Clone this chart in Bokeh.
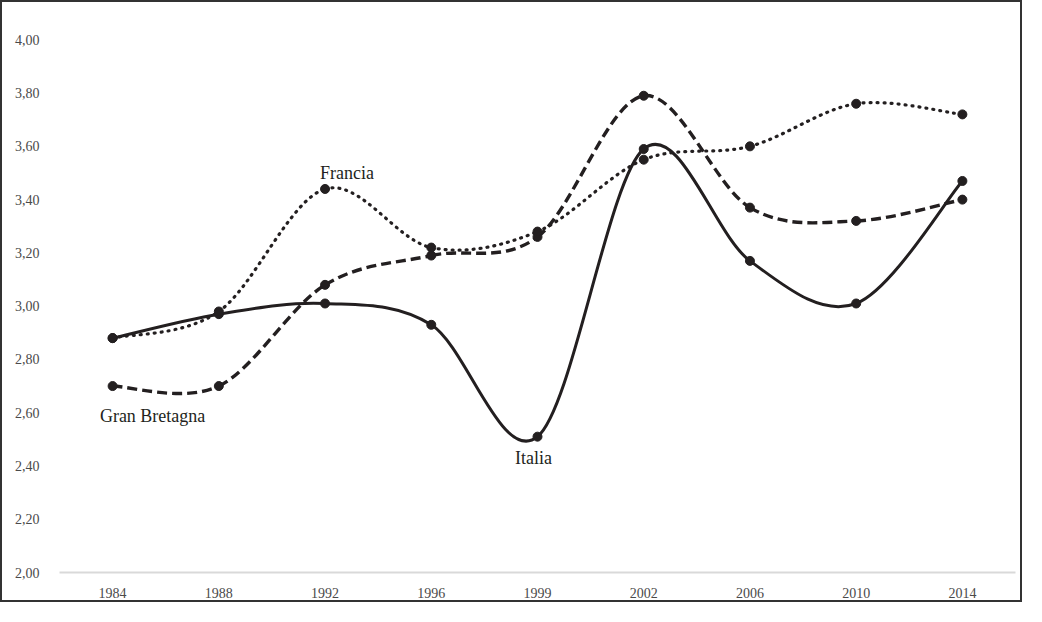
from bokeh.plotting import figure
from bokeh.models import FixedTicker, CustomJSTickFormatter, Range1d, ColumnDataSource
from bokeh.core.properties import value
from bokeh.embed import file_html
from bokeh.resources import INLINE

years = ["1984", "1988", "1992", "1996", "1999", "2002", "2006", "2010", "2014"]
italia = [2.88, 2.97, 3.01, 2.93, 2.51, 3.59, 3.17, 3.01, 3.47]
gran_bretagna = [2.70, 2.70, 3.08, 3.19, 3.26, 3.79, 3.37, 3.32, 3.40]
francia = [2.88, 2.98, 3.44, 3.22, 3.28, 3.55, 3.60, 3.76, 3.72]
y_ticks = [2.0, 2.2, 2.4, 2.6, 2.8, 3.0, 3.2, 3.4, 3.6, 3.8, 4.0]

INK = "#231f20"
TICK = "#4a4a4a"
SERIF = "Liberation Serif"

xs = list(range(len(years)))


def smooth_segments(ys):
    n = len(ys)
    d = dict(x0=[], y0=[], x1=[], y1=[], cx0=[], cy0=[], cx1=[], cy1=[])
    for i in range(n - 1):
        a = max(i - 1, 0)
        b = min(i + 2, n - 1)
        d["x0"].append(xs[i]); d["y0"].append(ys[i])
        d["x1"].append(xs[i + 1]); d["y1"].append(ys[i + 1])
        d["cx0"].append(xs[i] + (xs[i + 1] - xs[a]) / 6)
        d["cy0"].append(ys[i] + (ys[i + 1] - ys[a]) / 6)
        d["cx1"].append(xs[i + 1] - (xs[b] - xs[i]) / 6)
        d["cy1"].append(ys[i + 1] - (ys[b] - ys[i]) / 6)
    return ColumnDataSource(d)


p = figure(width=1022, height=602, output_backend="svg", toolbar_location=None,
           x_range=Range1d(-0.5, len(years) - 0.5), y_range=Range1d(2.0, 4.05),
           min_border_left=57, min_border_right=9, min_border_top=24, min_border_bottom=32)
p.styles = {"border": "2px solid #333333"}
p.outline_line_color = None
p.xgrid.grid_line_color = None
p.ygrid.grid_line_color = None

p.xaxis.ticker = FixedTicker(ticks=xs)
p.xaxis.major_label_overrides = {i: y for i, y in enumerate(years)}
p.xaxis.axis_line_color = "#d9d9d9"
p.xaxis.axis_line_width = 2
p.xaxis.major_tick_line_color = None
p.xaxis.minor_tick_line_color = None
p.xaxis.major_label_standoff = 9
p.xaxis.major_label_text_font = SERIF
p.xaxis.major_label_text_font_size = "14px"
p.xaxis.major_label_text_color = TICK

p.yaxis.ticker = FixedTicker(ticks=y_ticks)
p.yaxis.formatter = CustomJSTickFormatter(code="return tick.toFixed(2).replace('.', ',');")
p.yaxis.axis_line_color = None
p.yaxis.major_tick_line_color = None
p.yaxis.minor_tick_line_color = None
p.yaxis.major_label_standoff = 14
p.yaxis.major_label_text_font = SERIF
p.yaxis.major_label_text_font_size = "14px"
p.yaxis.major_label_text_color = TICK

styles = [
    (italia, None),
    (gran_bretagna, "10 5"),
    (francia, "1 6"),
]
for ys, dash in styles:
    src = smooth_segments(ys)
    kw = dict(line_color=INK, line_width=3)
    if dash == "1 6":
        kw.update(line_dash=dash, line_cap="round", line_width=3.2)
    elif dash:
        kw.update(line_dash=dash, line_width=3.4)
    p.bezier(x0="x0", y0="y0", x1="x1", y1="y1", cx0="cx0", cy0="cy0",
             cx1="cx1", cy1="cy1", source=src, **kw)

for ys in (italia, gran_bretagna, francia):
    p.scatter(xs, ys, size=9, fill_color=INK, line_color=INK)

# series labels
lab = dict(text_font=value(SERIF), text_font_size="18px", text_color=INK,
           text_align="center", text_baseline="middle")
p.text(x=[2], y=[francia[2]], text=["Francia"], x_offset=22, y_offset=-16, **lab)
p.text(x=[0], y=[gran_bretagna[0]], text=["Gran Bretagna"], x_offset=40, y_offset=30, **lab)
p.text(x=[4], y=[italia[4]], text=["Italia"], x_offset=-4, y_offset=21, **lab)

open("out.html", "w").write(file_html(p, INLINE))
